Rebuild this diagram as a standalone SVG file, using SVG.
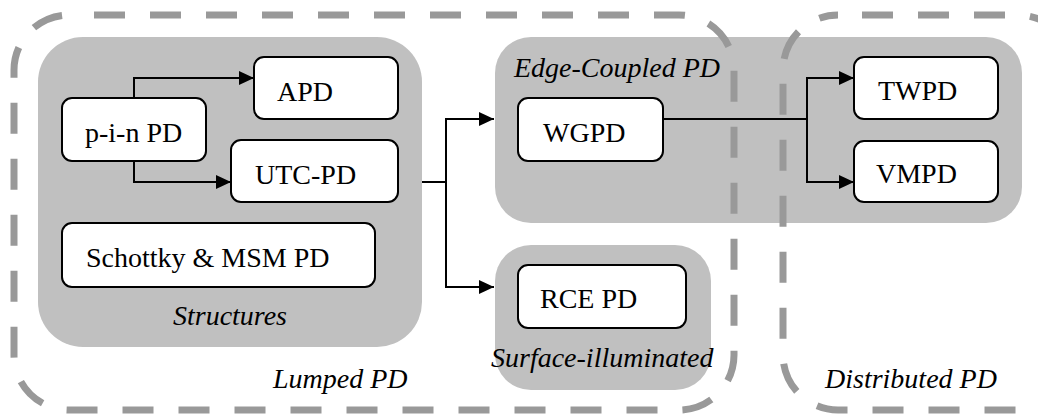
<svg xmlns="http://www.w3.org/2000/svg" width="1038" height="416" viewBox="0 0 1038 416" font-family="Liberation Serif, Times New Roman, serif">
  <style>
    .panel { fill: #c0c0c0; stroke: none; }
    .region { fill: none; stroke: #999999; stroke-width: 7; stroke-dasharray: 31 25; }
    .box { fill: #ffffff; stroke: #000000; stroke-width: 2; }
    .lbl, .cap { font-family: "Liberation Serif", "Times New Roman", serif; font-size: 28px; fill: #000000; }
    .cap { font-style: italic; }
    .wire { fill: none; stroke: #000000; stroke-width: 2; }
  </style>
  <defs>
    <marker id="arrow" viewBox="0 0 15 14" refX="15" refY="7" markerWidth="15" markerHeight="14" markerUnits="userSpaceOnUse" orient="auto">
      <path d="M0,0 L15,7 L0,14 Z" fill="#000000"/>
    </marker>
  </defs>

  <!-- grey category panels -->
  <g id="panels">
    <rect id="structures-panel" class="panel" x="38" y="37" width="384" height="310" rx="45"/>
    <rect id="edge-panel" class="panel" x="495" y="37" width="527" height="186" rx="36"/>
    <rect id="surface-panel" class="panel" x="495" y="245" width="216" height="145" rx="36"/>
  </g>

  <!-- dashed outer regions -->
  <g id="regions">
    <rect id="lumped-region" class="region" x="14" y="15" width="720" height="395" rx="55" stroke-dashoffset="31"/>
    <rect id="distributed-region" class="region" x="783" y="15" width="290" height="395" rx="55" stroke-dashoffset="32"/>
  </g>

  <!-- panel and region captions -->
  <g id="captions">
    <text class="cap" x="514" y="77">Edge-Coupled PD</text>
    <text class="cap" x="230" y="325" text-anchor="middle">Structures</text>
    <text class="cap" x="491" y="367">Surface-illuminated</text>
    <text class="cap" x="273" y="388">Lumped PD</text>
    <text class="cap" x="825" y="388">Distributed PD</text>
  </g>

  <!-- connectors -->
  <g id="connectors">
    <path class="wire" d="M134,98 V78 H254" marker-end="url(#arrow)"/>
    <path class="wire" d="M134,161 V182 H231" marker-end="url(#arrow)"/>
    <path class="wire" d="M422,182 H446"/>
    <path class="wire" d="M446,182 V119 H494" marker-end="url(#arrow)"/>
    <path class="wire" d="M446,182 V287 H494" marker-end="url(#arrow)"/>
    <path class="wire" d="M663,119 H807"/>
    <path class="wire" d="M807,119 V78 H854" marker-end="url(#arrow)"/>
    <path class="wire" d="M807,119 V182 H854" marker-end="url(#arrow)"/>
  </g>

  <!-- device nodes -->
  <g id="pin-pd">
    <rect class="box" x="62" y="98" width="144" height="63" rx="10"/>
    <text class="lbl" x="85" y="142">p-i-n PD</text>
  </g>
  <g id="apd">
    <rect class="box" x="254" y="57" width="144" height="62" rx="10"/>
    <text class="lbl" x="277" y="101">APD</text>
  </g>
  <g id="utc-pd">
    <rect class="box" x="231" y="140" width="167" height="62" rx="10"/>
    <text class="lbl" x="255" y="184">UTC-PD</text>
  </g>
  <g id="schottky-msm-pd">
    <rect class="box" x="62" y="223" width="313" height="64" rx="10"/>
    <text class="lbl" x="86" y="267">Schottky &amp; MSM PD</text>
  </g>
  <g id="wgpd">
    <rect class="box" x="518" y="98" width="145" height="63" rx="10"/>
    <text class="lbl" x="543" y="142">WGPD</text>
  </g>
  <g id="rce-pd">
    <rect class="box" x="518" y="265" width="168" height="63" rx="10"/>
    <text class="lbl" x="540" y="308">RCE PD</text>
  </g>
  <g id="twpd">
    <rect class="box" x="854" y="57" width="144" height="62" rx="10"/>
    <text class="lbl" x="878" y="100">TWPD</text>
  </g>
  <g id="vmpd">
    <rect class="box" x="854" y="141" width="144" height="61" rx="10"/>
    <text class="lbl" x="876" y="183">VMPD</text>
  </g>
</svg>
